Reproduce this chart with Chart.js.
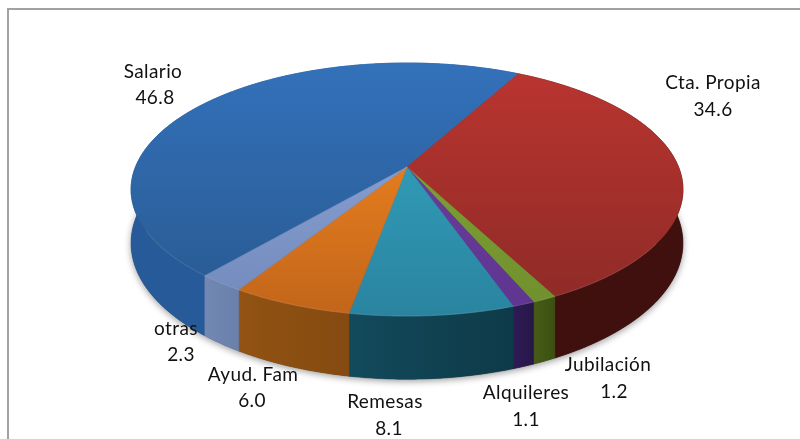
<!DOCTYPE html>
<html>
<head>
<meta charset="utf-8">
<style>
  html, body { margin: 0; padding: 0; background: #fff; overflow: hidden; }
  canvas { display: block; }
</style>
<script src="https://cdn.jsdelivr.net/npm/chart.js@4"></script>
</head>
<body>
<canvas id="grafico" width="800" height="439"></canvas>
<script>
// datos del grafico
const categorias = ['Salario', 'Cta. Propia', 'Jubilación', 'Alquileres', 'Remesas', 'Ayud. Fam', 'otras'];
const valores = [46.8, 34.6, 1.2, 1.1, 8.1, 6.0, 2.3];

// colores: cara superior (claro, oscuro) y pared lateral (izq, der)
const caraClaro = ['#3371ba', '#bb3530', '#84aa3a', '#7040a0', '#35a8c4', '#fb8c22', '#8fa9dc'];
const caraOscuro = ['#28598f', '#8c2a26', '#6f8f2c', '#5f3590', '#2a84a0', '#c2651a', '#7389bb'];
const paredIzq = ['#275a98', '#5c1714', '#465c16', '#2d1b54', '#124a5c', '#925313', '#7188b4'];
const paredDer = ['#1d4980', '#3f100e', '#3c5012', '#281748', '#0e3a48', '#844a10', '#6a80ab'];

// posicion de cada etiqueta: nombre y valor
const posEtiquetas = [
  [153, 72, 155, 98], [713, 83, 713, 110], [608, 365, 614, 392], [526, 393, 526, 420],
  [385, 402, 389, 429], [253, 375, 252, 401], [176, 329, 181, 355]
];

// perspectiva del disco, relativa al radio que calcula Chart.js
const escalaX = 1.626, escalaY = 0.7335, fuga = 0.178, alto = 0.311;

function proyectar(arc, ang, h) {
  const v = Math.sin(ang);
  const s = 1 / (1 - fuga * v);
  return [
    arc.x + arc.outerRadius * escalaX * Math.cos(ang) * s,
    arc.y + arc.outerRadius * (escalaY * v + alto * h) * s
  ];
}

function borde(ctx, arc, a0, a1, h, mover) {
  const pasos = Math.max(2, Math.ceil(Math.abs(a1 - a0) / 0.01));
  for (let i = 0; i <= pasos; i++) {
    const p = proyectar(arc, a0 + (a1 - a0) * i / pasos, h);
    if (i === 0 && mover) ctx.moveTo(p[0], p[1]); else ctx.lineTo(p[0], p[1]);
  }
}

const pastel3d = {
  id: 'pastel3d',
  beforeDatasetsDraw(chart) {
    const ctx = chart.ctx;
    const arcos = chart.getDatasetMeta(0).data;
    const base = arcos[0];
    const dospi = Math.PI * 2;

    // marco
    ctx.save();
    ctx.strokeStyle = '#a2a2a2';
    ctx.lineWidth = 2;
    ctx.beginPath();
    ctx.moveTo(8, 439);
    ctx.lineTo(8, 9);
    ctx.lineTo(800, 9);
    ctx.stroke();
    ctx.restore();

    // sombra bajo el disco
    ctx.save();
    ctx.shadowColor = 'rgba(0,0,0,0.4)';
    ctx.shadowBlur = 7;
    ctx.shadowOffsetY = 2;
    ctx.fillStyle = '#333';
    ctx.beginPath();
    borde(ctx, base, 0, dospi, 1, true);
    ctx.closePath();
    ctx.fill();
    ctx.restore();

    // paredes
    arcos.forEach((arc, i) => {
      const p0 = proyectar(arc, arc.startAngle, 0);
      const p1 = proyectar(arc, arc.endAngle, 0);
      const izq = Math.min(p0[0], p1[0]), der = Math.max(p0[0], p1[0]);
      const g = ctx.createLinearGradient(izq, 0, der + 1, 0);
      g.addColorStop(0, paredIzq[i]);
      g.addColorStop(1, paredDer[i]);
      ctx.fillStyle = g;
      ctx.strokeStyle = g;
      ctx.lineWidth = 0.6;
      ctx.beginPath();
      borde(ctx, arc, arc.startAngle, arc.endAngle, 0, true);
      borde(ctx, arc, arc.endAngle, arc.startAngle, 1, false);
      ctx.closePath();
      ctx.fill();
      ctx.stroke();
    });

    // caras superiores
    const sup = proyectar(base, -Math.PI / 2, 0)[1];
    const inf = proyectar(base, Math.PI / 2, 0)[1];
    arcos.forEach((arc, i) => {
      const g = ctx.createLinearGradient(0, sup, 0, inf);
      g.addColorStop(0, caraClaro[i]);
      g.addColorStop(1, caraOscuro[i]);
      ctx.fillStyle = g;
      ctx.strokeStyle = g;
      ctx.lineWidth = 0.6;
      ctx.beginPath();
      ctx.moveTo(arc.x, arc.y);
      borde(ctx, arc, arc.startAngle, arc.endAngle, 0, false);
      ctx.closePath();
      ctx.fill();
      ctx.stroke();
    });

    // brillo del canto delantero
    ctx.strokeStyle = 'rgba(255,255,255,0.10)';
    ctx.lineWidth = 1.2;
    ctx.beginPath();
    borde(ctx, base, 0.6, Math.PI - 0.5, 0, true);
    ctx.stroke();

    // etiquetas
    ctx.save();
    ctx.font = '19px Lato';
    ctx.letterSpacing = '0.4px';
    ctx.fillStyle = '#111';
    ctx.textAlign = 'center';
    ctx.textBaseline = 'middle';
    categorias.forEach((nombre, i) => {
      const p = posEtiquetas[i];
      ctx.fillText(nombre, p[0], p[1]);
      ctx.fillText(valores[i].toFixed(1), p[2], p[3]);
    });
    ctx.restore();
    return false;
  }
};

new Chart(document.getElementById('grafico').getContext('2d'), {
  type: 'pie',
  data: {
    labels: categorias,
    datasets: [{ data: valores, backgroundColor: caraClaro, borderWidth: 0 }]
  },
  options: {
    responsive: false,
    animation: false,
    rotation: -140,
    layout: { padding: { left: 14, bottom: 105 } },
    plugins: { legend: { display: false }, tooltip: { enabled: false } }
  },
  plugins: [pastel3d]
});
</script>
</body>
</html>
